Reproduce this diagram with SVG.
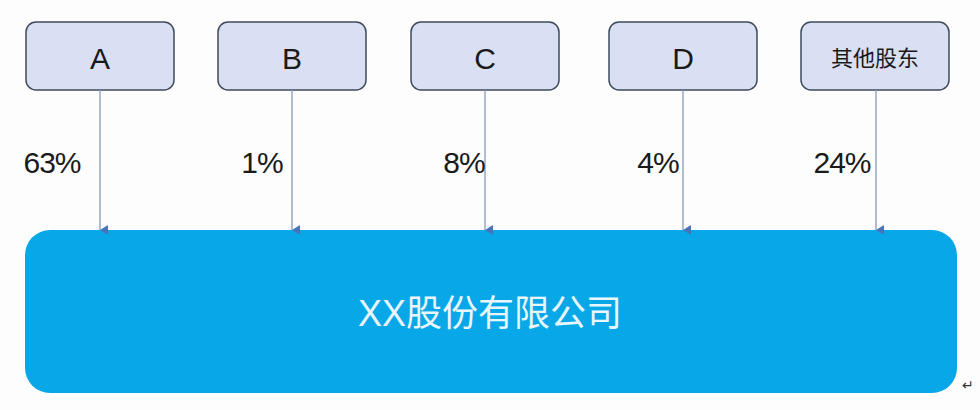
<svg xmlns="http://www.w3.org/2000/svg" width="980" height="410" viewBox="0 0 980 410">
<style>
.n{fill:#dae0f3;stroke:#3f4a5e;stroke-width:1.5}
.t{font-family:"Liberation Sans","Noto Sans CJK SC",sans-serif;fill:#1a1a1a;text-anchor:middle}
.c{stroke:#8a9bb8;stroke-width:1.3;fill:none;marker-end:url(#ar)}
</style>
<defs><marker id="ar" markerWidth="10" markerHeight="10" refX="5" refY="8" orient="auto" markerUnits="userSpaceOnUse" viewBox="0 0 10 10"><path d="M0,0 L10,0 L5,8 Z" fill="#4a72b8" transform="translate(0,0)"/></marker></defs>
<rect width="980" height="410" fill="#fdfdfe"/>
<g id="A"><rect class="n" x="26" y="22" width="148" height="68" rx="10"/><text class="t" x="100" y="69" font-size="30">A</text></g>
<g id="B"><rect class="n" x="218" y="22" width="148" height="68" rx="10"/><text class="t" x="292" y="69" font-size="30">B</text></g>
<g id="C"><rect class="n" x="411" y="22" width="148" height="68" rx="10"/><text class="t" x="485" y="69" font-size="30">C</text></g>
<g id="D"><rect class="n" x="609" y="22" width="148" height="68" rx="10"/><text class="t" x="683" y="69" font-size="30">D</text></g>
<g id="E"><rect class="n" x="801" y="22" width="148" height="68" rx="10"/><text class="t" x="875" y="66" font-size="22">其他股东</text></g>
<g id="X"><rect x="25" y="230" width="932" height="163" rx="25" fill="#08a8e8"/><text class="t" x="490" y="326" font-size="36" style="fill:#e8f6fd">XX股份有限公司</text></g>
<g id="connectors">
<line class="c" x1="100" y1="90" x2="100" y2="230"/>
<line class="c" x1="292" y1="90" x2="292" y2="230"/>
<line class="c" x1="485" y1="90" x2="485" y2="230"/>
<line class="c" x1="683" y1="90" x2="683" y2="230"/>
<line class="c" x1="876" y1="90" x2="876" y2="230"/>
</g>
<g class="t" font-size="30" letter-spacing="-1">
<text x="52" y="173">63%</text>
<text x="262" y="173">1%</text>
<text x="464" y="173">8%</text>
<text x="658" y="173">4%</text>
<text x="842" y="173">24%</text>
</g>
<text class="t" x="968" y="390" font-size="14" style="fill:#333">↵</text>
</svg>
